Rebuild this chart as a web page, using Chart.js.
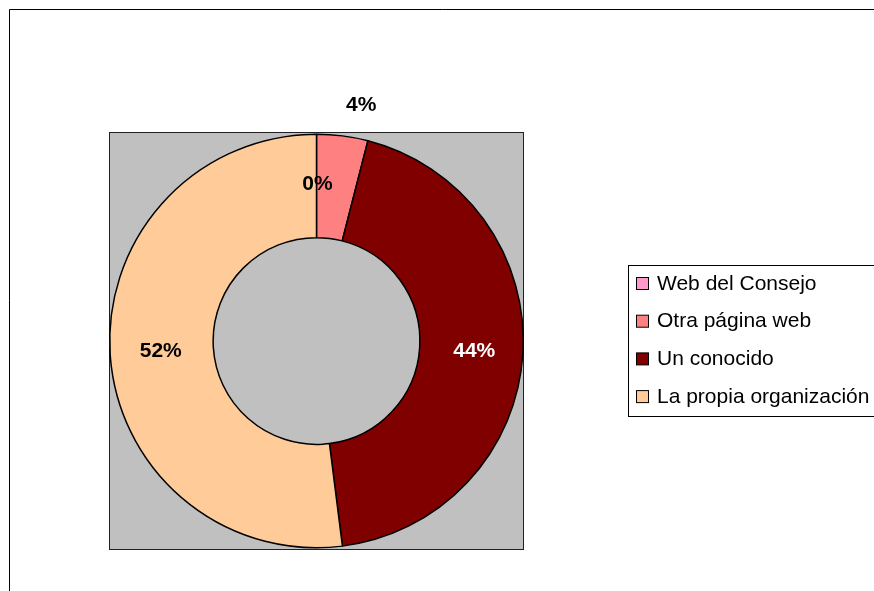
<!DOCTYPE html>
<html>
<head>
<meta charset="utf-8">
<script src="https://cdn.jsdelivr.net/npm/chart.js@4/dist/chart.umd.min.js"></script>
<style>
  html, body { margin: 0; padding: 0; background: #fff; }
  canvas { display: block; }
</style>
</head>
<body>
<canvas id="grafico" width="874" height="591"></canvas>
<script>
// Datos del gráfico
const categorias = ['Web del Consejo', 'Otra página web', 'Un conocido', 'La propia organización'];
const porcentajes = [0, 4, 44, 52];
const colores = ['#FF99CC', '#FF8080', '#800000', '#FFCC99'];
const coloresEtiqueta = ['#000000', '#000000', '#FFFFFF', '#000000'];

const FUENTE = 'Arial, "Liberation Sans", sans-serif';

// Marco exterior y fondo gris del área de trazado
const fondoPlugin = {
    id: 'fondo',
    beforeDraw(chart) {
        const ctx = chart.ctx;
        const a = chart.chartArea;
        ctx.save();
        ctx.fillStyle = '#ffffff';
        ctx.fillRect(0, 0, chart.width, chart.height);
        ctx.strokeStyle = '#000000';
        ctx.lineWidth = 1;
        ctx.beginPath();
        ctx.moveTo(9.5, chart.height + 2);
        ctx.lineTo(9.5, 9.5);
        ctx.lineTo(chart.width + 2, 9.5);
        ctx.stroke();
        ctx.fillStyle = '#C0C0C0';
        ctx.fillRect(a.left, a.top, a.right - a.left, a.bottom - a.top);
        ctx.strokeStyle = '#202020';
        ctx.strokeRect(a.left + 0.5, a.top + 0.5, a.right - a.left - 1, a.bottom - a.top - 1);
        ctx.restore();
    }
};

// Etiquetas de porcentaje sobre cada sector
const etiquetasPlugin = {
    id: 'etiquetas',
    afterDatasetsDraw(chart) {
        const ctx = chart.ctx;
        const meta = chart.getDatasetMeta(0);
        ctx.save();
        ctx.font = 'bold 21px ' + FUENTE;
        ctx.textAlign = 'center';
        ctx.textBaseline = 'middle';
        meta.data.forEach((arc, i) => {
            const p = arc.getProps(['x', 'y', 'startAngle', 'endAngle', 'innerRadius', 'outerRadius'], true);
            const barrido = p.endAngle - p.startAngle;
            let ang, r;
            if (porcentajes[i] > 0 && barrido < 0.3) {
                // sector pequeño: etiqueta fuera del anillo
                ang = p.startAngle + barrido * 0.73;
                r = p.outerRadius + 33;
            } else {
                ang = p.startAngle + barrido / 2;
                r = (p.innerRadius + p.outerRadius) / 2 + 2;
            }
            ctx.fillStyle = coloresEtiqueta[i];
            ctx.fillText(porcentajes[i] + '%', p.x + Math.cos(ang) * r + 1, p.y + Math.sin(ang) * r);
        });
        ctx.restore();
    }
};

// Leyenda con recuadro
const leyendaPlugin = {
    id: 'leyenda',
    afterDraw(chart) {
        const ctx = chart.ctx;
        const ds = chart.data.datasets[0];
        const x0 = 628, y0 = 265, alto = 151;
        ctx.save();
        ctx.fillStyle = '#ffffff';
        ctx.fillRect(x0, y0, chart.width - x0 + 5, alto);
        ctx.strokeStyle = '#000000';
        ctx.lineWidth = 1;
        ctx.strokeRect(x0 + 0.5, y0 + 0.5, chart.width - x0 + 5, alto);
        ctx.font = '21px ' + FUENTE;
        ctx.textBaseline = 'middle';
        chart.data.labels.forEach((lab, i) => {
            const cy = y0 + 18 + i * 37.7;
            ctx.fillStyle = ds.backgroundColor[i];
            ctx.fillRect(636.5, cy - 5.5, 12, 12);
            ctx.strokeStyle = '#000000';
            ctx.strokeRect(636.5, cy - 5.5, 12, 12);
            ctx.fillStyle = '#000000';
            ctx.fillText(lab, 657, cy + 1);
        });
        ctx.restore();
    }
};

new Chart(document.getElementById('grafico'), {
    type: 'doughnut',
    data: {
        labels: categorias,
        datasets: [{
            data: porcentajes,
            backgroundColor: colores,
            borderColor: '#000000',
            borderWidth: 1.5
        }]
    },
    options: {
        responsive: false,
        animation: false,
        cutout: '50%',
        layout: {
            padding: { left: 109, right: 350, top: 132, bottom: 41 }
        },
        plugins: {
            legend: { display: false },
            tooltip: { enabled: false }
        }
    },
    plugins: [fondoPlugin, etiquetasPlugin, leyendaPlugin]
});
</script>
</body>
</html>
